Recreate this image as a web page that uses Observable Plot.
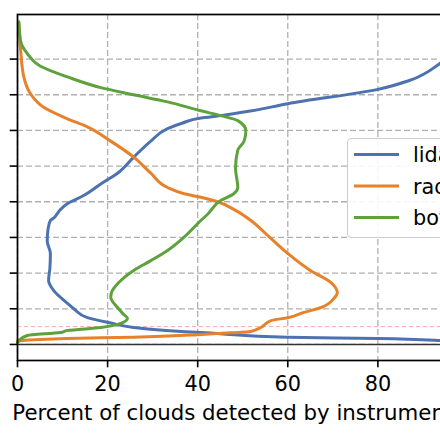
<!DOCTYPE html>
<html>
<head>
<meta charset="utf-8">
<script src="https://cdn.jsdelivr.net/npm/d3@7"></script>
<script src="https://cdn.jsdelivr.net/npm/@observablehq/plot@0.6"></script>
<style>
  html, body { margin: 0; padding: 0; background: #fff; }
  #wrap { position: relative; width: 440px; height: 440px; overflow: hidden; background: #fff; font-family: "DejaVu Sans", sans-serif; }
  #wrap svg.plotmain { position: absolute; left: -43px; top: 0; max-width: none !important; }
  #legend { position: absolute; left: 347px; top: 138px; width: 130px; height: 98px; border: 1px solid #cccccc; border-radius: 4px; background: rgba(255,255,255,0.9); }
</style>
</head>
<body>
<div id="wrap"></div>
<script>
// ---- data (altitude in km, percent of clouds) ----
const series = ["lidar", "radar", "both"];
const colors = ["#4c72b0", "#e8822a", "#5da23c"];

const lidarAlt = [0.12, 0.22, 0.33, 0.4, 0.6, 0.67, 0.78, 0.95, 1.2, 1.5, 2.0, 2.3, 3.0, 3.6, 4.3, 5.1, 5.8, 6.5, 6.95, 7.1, 7.5, 7.9, 8.35, 9.0, 9.6, 10.5, 11.4, 12.1, 12.4, 12.7, 12.83, 13.1, 13.5, 14.3, 14.8, 15.8, 16.5, 17.5, 18.1];
const lidarPct = [100, 94, 80, 60, 45, 40.7, 33, 25.8, 20.7, 15.5, 12.5, 11.1, 8.1, 6.9, 7.2, 7.3, 6.6, 6.8, 7.3, 8.1, 9.3, 11.1, 14.7, 18.5, 22.2, 25.8, 29.6, 33.3, 36.5, 40.7, 45.1, 52, 60, 80, 87, 94, 97.5, 99.3, 100];

const radarAlt = [0.2, 0.33, 0.41, 0.55, 0.62, 0.73, 0.95, 1.34, 1.5, 1.8, 2.07, 2.6, 2.9, 3.47, 4.15, 5.1, 6.0, 6.95, 7.5, 8.0, 8.25, 8.45, 8.8, 9.6, 10.5, 11.4, 12.2, 12.65, 13.3, 14.05, 15.0, 16.5, 18.0];
const radarPct = [0, 11, 25.8, 40, 45, 51.8, 54, 56.3, 60, 63.6, 67.4, 70.3, 71, 69.6, 65, 60, 56, 51.8, 48.5, 44.4, 40.7, 37, 33.3, 29.6, 25.8, 20.7, 15.5, 11.1, 5.8, 2.9, 1.4, 0.7, 0.3];

const bothAlt = [0.12, 0.5, 0.67, 0.78, 0.95, 1.18, 1.46, 1.7, 2.07, 2.65, 3.0, 3.4, 4.15, 4.7, 5.27, 6.0, 6.95, 7.3, 8.07, 8.45, 8.8, 9.9, 10.9, 11.4, 12.0, 12.55, 12.83, 13.1, 13.6, 14.0, 14.4, 15.0, 15.6, 16.3, 17.0, 18.1];
const bothPct = [0, 2.2, 9.5, 11.1, 18.5, 22.9, 24.4, 23.5, 22.2, 20.7, 21, 22.2, 25.8, 29.6, 33.3, 36.9, 40.7, 42.2, 45.1, 48, 48.9, 48.4, 48.9, 50.3, 50.7, 48.9, 45.1, 40.7, 33.3, 25.8, 18.5, 11.1, 5.1, 2.2, 0.7, 0.3];

const xTicks = [0, 20, 40, 60, 80, 100];
const yTicks = [0, 2, 4, 6, 8, 10, 12, 14, 16];
const groundAlt = [0];
const refAlt = [1];
const xLabel = "Percent of clouds detected by instrument";

// ---- build table ----
const rows = [];
[[lidarAlt, lidarPct], [radarAlt, radarPct], [bothAlt, bothPct]].forEach(([alt, pct], i) => {
  alt.forEach((a, j) => rows.push({series: series[i], alt: a, pct: pct[j]}));
});

const chart = Plot.plot({
  width: 553,
  height: 440,
  marginLeft: 60,
  marginRight: 20,
  marginTop: 14,
  marginBottom: 80,
  x: {domain: [0, 105]},
  y: {domain: [-0.9, 18.5]},
  color: {domain: series, range: colors},
  style: {fontFamily: "DejaVu Sans", fontSize: "20.8px", color: "black", background: "white", maxWidth: "none"},
  marks: [
    Plot.gridX(xTicks, {stroke: "#b0b0b0", strokeOpacity: 1, strokeWidth: 1.3, strokeDasharray: "6,3"}),
    Plot.gridY(yTicks, {stroke: "#b0b0b0", strokeOpacity: 1, strokeWidth: 1.3, strokeDasharray: "6,3"}),
    Plot.ruleY(refAlt, {stroke: "#ff8080", strokeOpacity: 0.7, strokeWidth: 1, strokeDasharray: "4,3"}),
    Plot.ruleY(groundAlt, {stroke: "#333333", strokeWidth: 1.5}),
    Plot.line(rows, {x: "pct", y: "alt", z: "series", stroke: "series", curve: "monotone-y", strokeWidth: 3}),
    Plot.frame({stroke: "black", strokeWidth: 1.7}),
    Plot.axisX({ticks: xTicks, tickSize: 7.3, tickPadding: 8, label: null, strokeWidth: 1.6}),
    Plot.axisY({ticks: yTicks, tickSize: 7.3, tickPadding: 9.5, label: null, strokeWidth: 1.6}),
    Plot.text([xLabel], {frameAnchor: "bottom-left", text: d => d, textAnchor: "start", lineAnchor: "middle", dx: -5.2, dy: 52.5, fontSize: 21.3, fill: "black"})
  ]
});
chart.classList.add("plotmain");
chart.style.maxWidth = "none";
chart.setAttribute("width", 553);
chart.setAttribute("height", 440);
document.getElementById("wrap").appendChild(chart);

// ---- legend ----
const legend = document.createElement("div");
legend.id = "legend";
const ns = "http://www.w3.org/2000/svg";
const lsvg = document.createElementNS(ns, "svg");
lsvg.setAttribute("width", "130");
lsvg.setAttribute("height", "98");
series.forEach((s, i) => {
  const y = 15.5 + i * 31.5;
  const ln = document.createElementNS(ns, "line");
  ln.setAttribute("x1", 6); ln.setAttribute("x2", 51);
  ln.setAttribute("y1", y); ln.setAttribute("y2", y);
  ln.setAttribute("stroke", colors[i]); ln.setAttribute("stroke-width", 3);
  lsvg.appendChild(ln);
  const t = document.createElementNS(ns, "text");
  t.setAttribute("x", 65); t.setAttribute("y", y + 7.5);
  t.setAttribute("font-family", "DejaVu Sans"); t.setAttribute("font-size", "20.8");
  t.setAttribute("fill", "black");
  t.textContent = s;
  lsvg.appendChild(t);
});
legend.appendChild(lsvg);
document.getElementById("wrap").appendChild(legend);
</script>
</body>
</html>
